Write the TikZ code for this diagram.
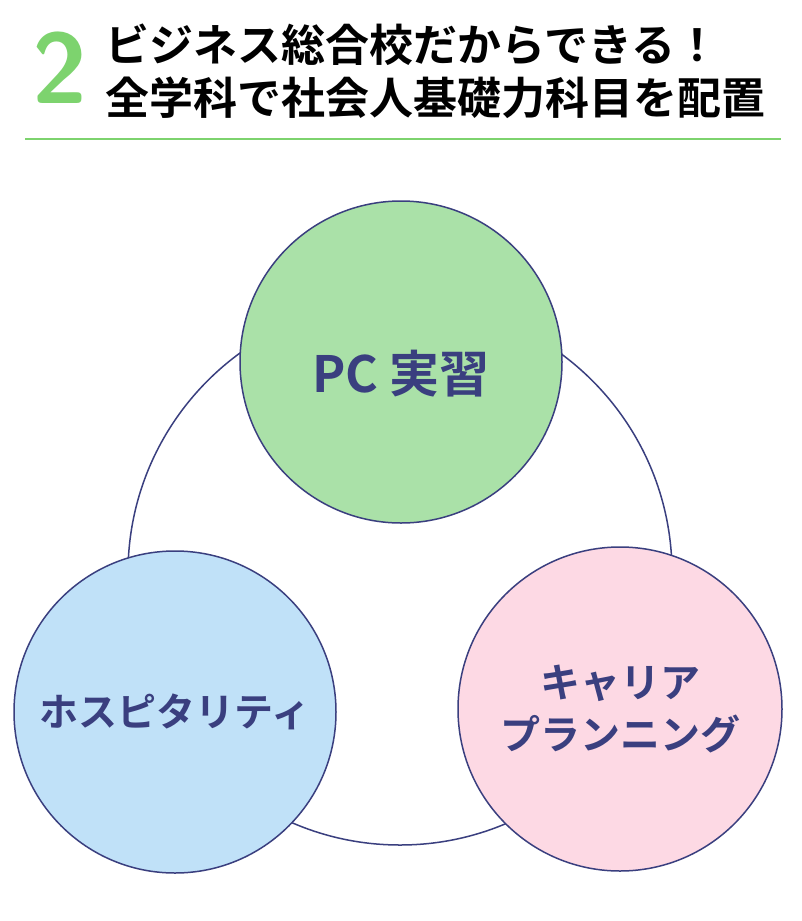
\documentclass[tikz,border=0pt]{standalone}
\usepackage{fontspec}
\newfontfamily\cjk[BoldFont={Noto Sans CJK JP Bold}]{Noto Sans CJK JP}
\definecolor{navy}{HTML}{3A3F7F}
\definecolor{gfill}{HTML}{AAE1A8}
\definecolor{bfill}{HTML}{C0E1F8}
\definecolor{pfill}{HTML}{FDD9E4}
\definecolor{lgreen}{HTML}{7DD36E}
\begin{document}
\begin{tikzpicture}[x=1pt,y=-1pt,
  circ/.style={circle,draw=navy,line width=1.5pt,minimum size=#1,inner sep=0pt},
  lab/.style={text=navy,align=center}]
\useasboundingbox[fill=white] (0,0) rectangle (801,921);
\node[circ=544pt] (big) at (400,573) {};
\node[circ=322pt,fill=gfill] (pc) at (401,362) {};
\node[circ=322pt,fill=bfill] (hosp) at (175,712) {};
\node[circ=324pt,fill=pfill] (car) at (620,709) {};
\node[lab,font=\cjk\bfseries\fontsize{50}{60}\selectfont] at ([yshift=-12pt]pc.center) {PC 実習};
\node[lab,font=\cjk\bfseries\fontsize{39}{46}\selectfont] at (hosp) {ホスピタリティ};
\node[lab,font=\cjk\bfseries\fontsize{40}{52}\selectfont] at (car) {キャリア\\プランニング};
\node[text=lgreen,font=\sffamily\bfseries\fontsize{100}{100}\selectfont] (two) at (60,68) {2};
\node[anchor=west,font=\cjk\bfseries\fontsize{44}{53}\selectfont,align=left] (title) at (102,71) {ビジネス総合校だからできる！\\全学科で社会人基礎力科目を配置};
\draw[lgreen,line width=2.5pt] (25,139) -- (781,139);
\end{tikzpicture}
\end{document}
